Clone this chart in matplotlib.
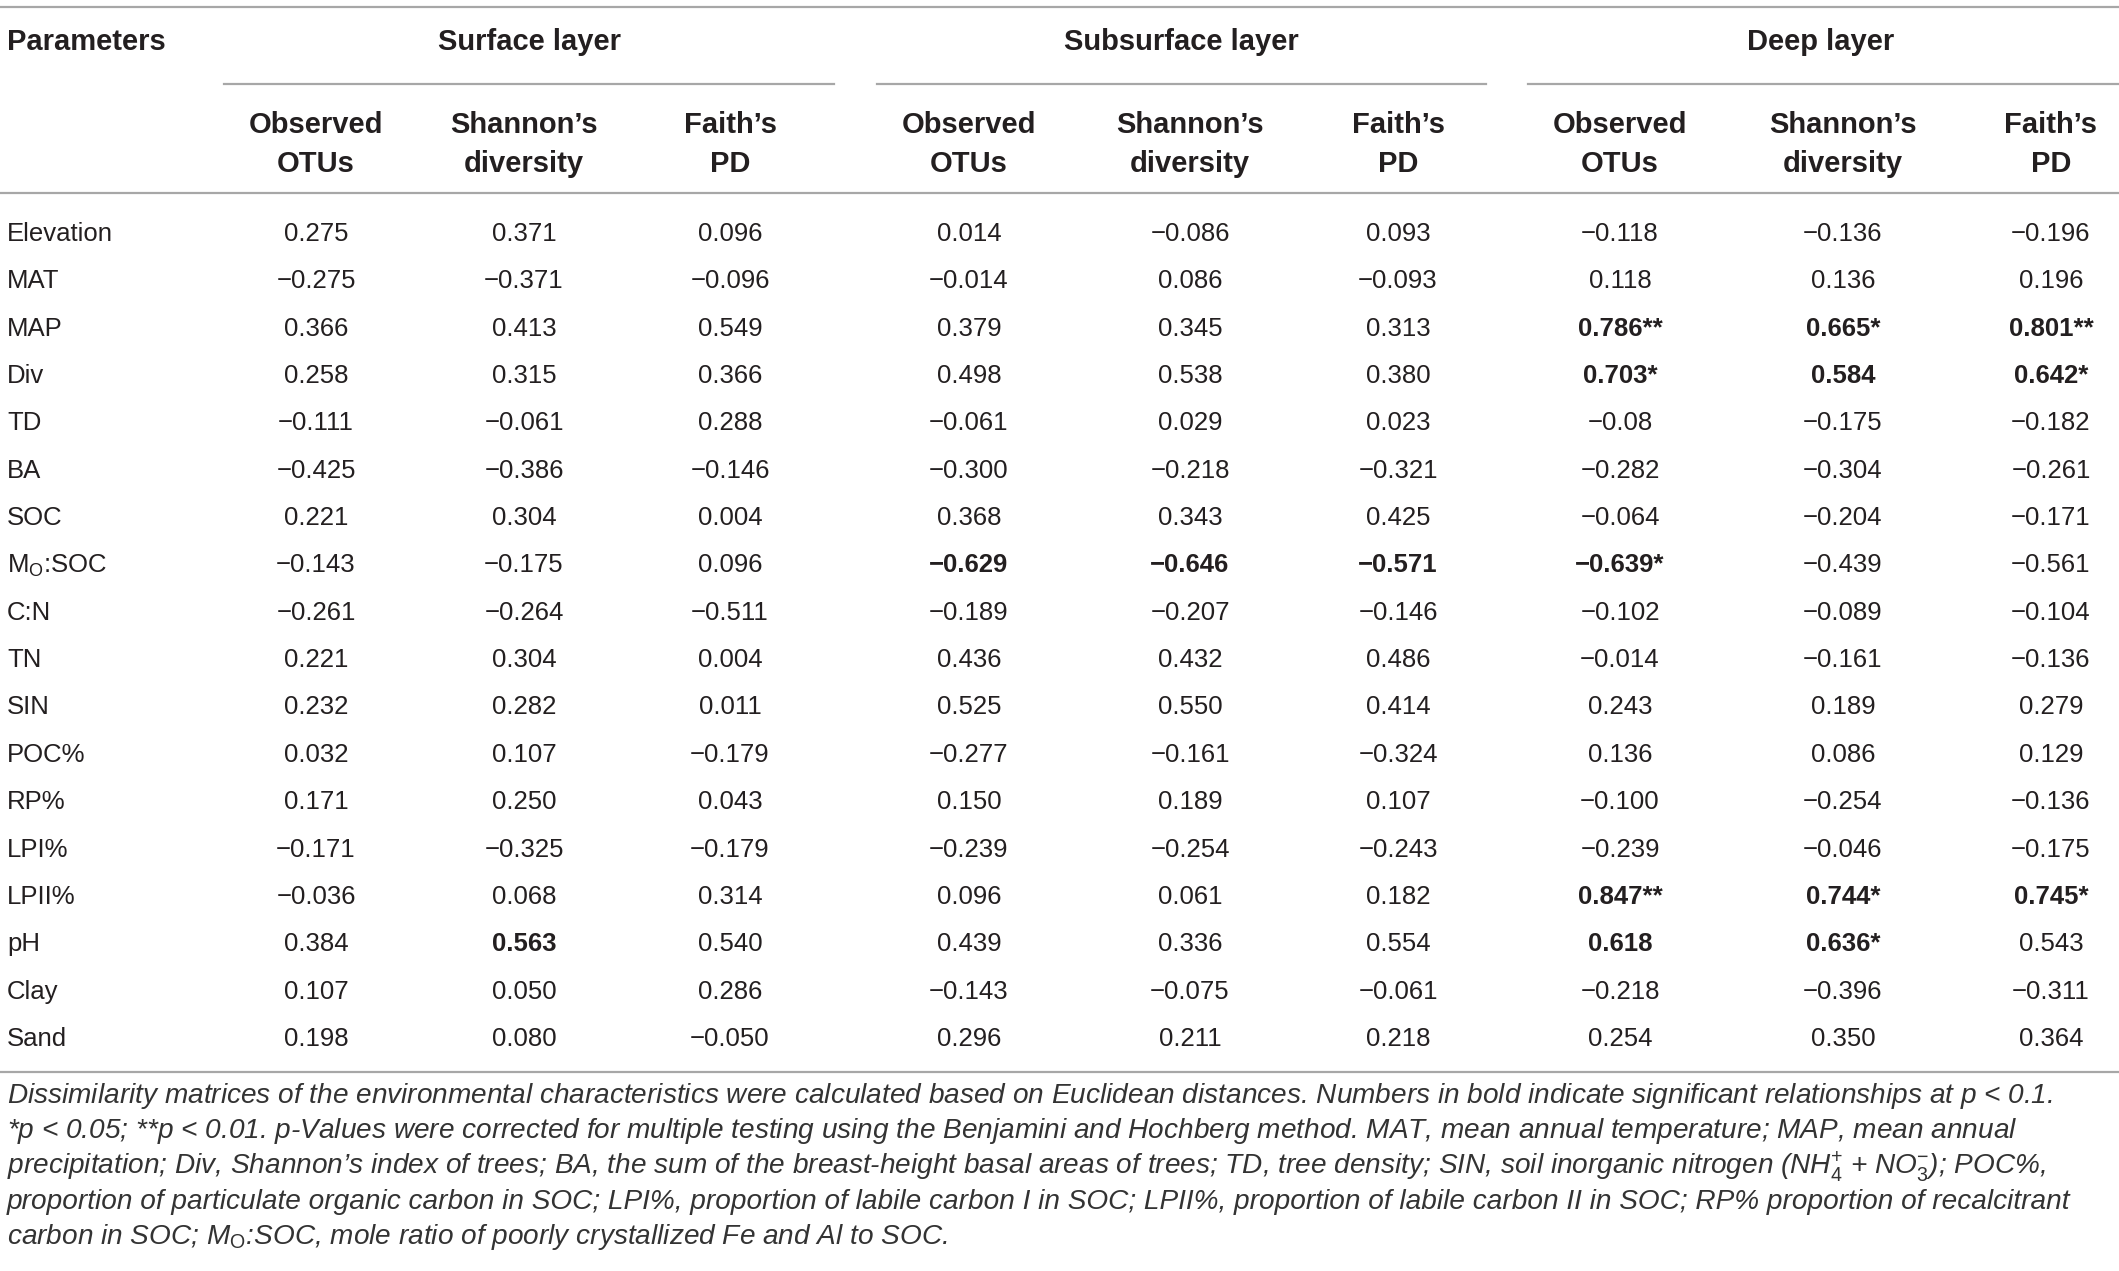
import matplotlib
matplotlib.use("Agg")
import matplotlib.pyplot as plt
from matplotlib import font_manager

#----------------------------Data----------------------------------------------#
params = ["Elevation", "MAT", "MAP", "Div", "TD", "BA", "SOC", r"M$_{\mathrm{O}}$:SOC",
          "C:N", "TN", "SIN", "POC%", "RP%", "LPI%", "LPII%", "pH", "Clay", "Sand"]
layers = ["Surface layer", "Subsurface layer", "Deep layer"]
metrics = [("Observed", "OTUs"), ("Shannon\u2019s", "diversity"), ("Faith\u2019s", "PD")]

surface = [
    ["0.275", "0.371", "0.096"],
    ["\u22120.275", "\u22120.371", "\u22120.096"],
    ["0.366", "0.413", "0.549"],
    ["0.258", "0.315", "0.366"],
    ["\u22120.111", "\u22120.061", "0.288"],
    ["\u22120.425", "\u22120.386", "\u22120.146"],
    ["0.221", "0.304", "0.004"],
    ["\u22120.143", "\u22120.175", "0.096"],
    ["\u22120.261", "\u22120.264", "\u22120.511"],
    ["0.221", "0.304", "0.004"],
    ["0.232", "0.282", "0.011"],
    ["0.032", "0.107", "\u22120.179"],
    ["0.171", "0.250", "0.043"],
    ["\u22120.171", "\u22120.325", "\u22120.179"],
    ["\u22120.036", "0.068", "0.314"],
    ["0.384", "0.563", "0.540"],
    ["0.107", "0.050", "0.286"],
    ["0.198", "0.080", "\u22120.050"],
]
subsurface = [
    ["0.014", "\u22120.086", "0.093"],
    ["\u22120.014", "0.086", "\u22120.093"],
    ["0.379", "0.345", "0.313"],
    ["0.498", "0.538", "0.380"],
    ["\u22120.061", "0.029", "0.023"],
    ["\u22120.300", "\u22120.218", "\u22120.321"],
    ["0.368", "0.343", "0.425"],
    ["\u22120.629", "\u22120.646", "\u22120.571"],
    ["\u22120.189", "\u22120.207", "\u22120.146"],
    ["0.436", "0.432", "0.486"],
    ["0.525", "0.550", "0.414"],
    ["\u22120.277", "\u22120.161", "\u22120.324"],
    ["0.150", "0.189", "0.107"],
    ["\u22120.239", "\u22120.254", "\u22120.243"],
    ["0.096", "0.061", "0.182"],
    ["0.439", "0.336", "0.554"],
    ["\u22120.143", "\u22120.075", "\u22120.061"],
    ["0.296", "0.211", "0.218"],
]
deep = [
    ["\u22120.118", "\u22120.136", "\u22120.196"],
    ["0.118", "0.136", "0.196"],
    ["0.786**", "0.665*", "0.801**"],
    ["0.703*", "0.584", "0.642*"],
    ["\u22120.08", "\u22120.175", "\u22120.182"],
    ["\u22120.282", "\u22120.304", "\u22120.261"],
    ["\u22120.064", "\u22120.204", "\u22120.171"],
    ["\u22120.639*", "\u22120.439", "\u22120.561"],
    ["\u22120.102", "\u22120.089", "\u22120.104"],
    ["\u22120.014", "\u22120.161", "\u22120.136"],
    ["0.243", "0.189", "0.279"],
    ["0.136", "0.086", "0.129"],
    ["\u22120.100", "\u22120.254", "\u22120.136"],
    ["\u22120.239", "\u22120.046", "\u22120.175"],
    ["0.847**", "0.744*", "0.745*"],
    ["0.618", "0.636*", "0.543"],
    ["\u22120.218", "\u22120.396", "\u22120.311"],
    ["0.254", "0.350", "0.364"],
]
# bold cells: (row, column 0..8)
bold_cells = [(2, 6), (2, 7), (2, 8), (3, 6), (3, 7), (3, 8),
              (7, 3), (7, 4), (7, 5), (7, 6),
              (14, 6), (14, 7), (14, 8), (15, 1), (15, 6), (15, 7)]

footnote = [
    "Dissimilarity matrices of the environmental characteristics were calculated based on Euclidean distances. Numbers in bold indicate significant relationships at $p$ < 0.1.",
    "*$p$ < 0.05; **$p$ < 0.01. $p$-Values were corrected for multiple testing using the Benjamini and Hochberg method. MAT, mean annual temperature; MAP, mean annual",
    "precipitation; Div, Shannon\u2019s index of trees; BA, the sum of the breast-height basal areas of trees; TD, tree density; SIN, soil inorganic nitrogen (NH$_{4}^{+}$ + NO$_{3}^{-}$); POC%,",
    "proportion of particulate organic carbon in SOC; LPI%, proportion of labile carbon I in SOC; LPII%, proportion of labile carbon II in SOC; RP% proportion of recalcitrant",
    r"carbon in SOC; M$_{\mathrm{O}}$:SOC, mole ratio of poorly crystallized Fe and Al to SOC.",
]

#----------------------------Setup---------------------------------------------#
names = {f.name for f in font_manager.fontManager.ttflist}
if "Liberation Sans Narrow" in names:
    fam = "Liberation Sans Narrow"
    fs, fs_head, fs_foot = 21, 24, 23
else:
    fam = "Liberation Sans"
    fs, fs_head, fs_foot = 18.5, 21, 20.2
plt.rcParams['font.family'] = [fam, 'DejaVu Sans']
plt.rcParams['mathtext.fontset'] = 'custom'
plt.rcParams['mathtext.rm'] = fam
plt.rcParams['mathtext.it'] = fam + ':italic'
plt.rcParams['mathtext.bf'] = fam + ':bold'

W, H = 2119, 1271
fig = plt.figure(figsize=(W / 100, H / 100), dpi=100)
ax = fig.add_axes([0, 0, 1, 1])
ax.set_xlim(0, W)
ax.set_ylim(H, 0)
ax.axis('off')

txt = '#231f20'
line_c = '#a7a7a7'
col_x = [316, 524, 730, 969, 1190, 1398, 1620, 1843, 2051]
group_x = [530, 1181, 1821]
group_span = [(224, 834), (877, 1486), (1528, 2119)]
row_y0, row_dy = 234, 47.35

# rules
ax.plot([0, W], [7, 7], color=line_c, lw=1.6)
ax.plot([0, W], [193, 193], color=line_c, lw=1.6)
ax.plot([0, W], [1072, 1072], color=line_c, lw=1.6)
for x0, x1 in group_span:
    ax.plot([x0, x1], [84, 84], color=line_c, lw=1.6)

# header
ax.text(7, 42, "Parameters", ha='left', va='center', fontsize=fs_head, weight='bold', color=txt)
for gx, name in zip(group_x, layers):
    ax.text(gx, 42, name, ha='center', va='center', fontsize=fs_head, weight='bold', color=txt)
for j, x in enumerate(col_x):
    top, bot = metrics[j % 3]
    ax.text(x, 125, top, ha='center', va='center', fontsize=fs_head, weight='bold', color=txt)
    ax.text(x, 164, bot, ha='center', va='center', fontsize=fs_head, weight='bold', color=txt)

# body
for i, p in enumerate(params):
    y = row_y0 + i * row_dy
    ax.text(7, y, p, ha='left', va='center', fontsize=fs, color=txt)
    cells = surface[i] + subsurface[i] + deep[i]
    for j, v in enumerate(cells):
        w = 'bold' if (i, j) in bold_cells else 'normal'
        ax.text(col_x[j], y, v, ha='center', va='center', fontsize=fs, weight=w, color=txt)

# footnote
for k, line in enumerate(footnote):
    ax.text(7, 1096 + k * 35.3, line, ha='left', va='center', fontsize=fs_foot,
            style='italic', color='#333333')

fig.savefig('out.png', dpi=100)
